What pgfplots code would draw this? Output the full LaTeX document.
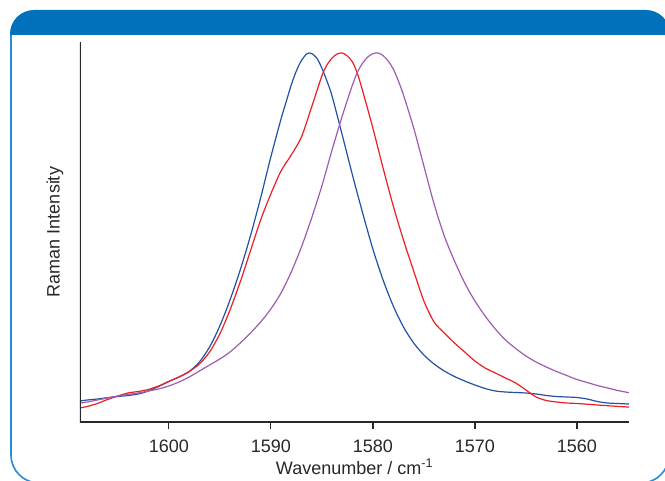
\documentclass[border=0pt]{standalone}
\usepackage{pgfplots}
\pgfplotsset{compat=1.18}
\usepackage{fontspec}
\setmainfont{Liberation Sans}
\definecolor{hdr}{RGB}{0,113,186}
\definecolor{frm}{RGB}{40,140,215}
\definecolor{cblue}{RGB}{35,82,165}
\definecolor{cred}{RGB}{237,30,36}
\definecolor{cpurp}{RGB}{158,92,178}
\definecolor{axc}{RGB}{40,40,40}
\begin{document}
\begin{tikzpicture}[x=1pt,y=1pt]
\clip (0,0) rectangle (665,480);
\fill[white] (0,0) rectangle (665,480);
\draw[frm, line width=1.6pt] (11,446) -- (11,25) arc[start angle=180,end angle=270,radius=28] -- (641,-3) arc[start angle=270,end angle=360,radius=28] -- (669,446);
\fill[hdr] (10,445) -- (10,446) arc[start angle=180,end angle=90,radius=24] -- (646,470) arc[start angle=90,end angle=0,radius=24] -- (670,445) -- cycle;
\begin{axis}[at={(80pt,58pt)}, anchor=south west, scale only axis,
  width=549pt, height=380pt, x dir=reverse,
  xmin=1554.9, xmax=1608.7, ymin=0, ymax=380,
  axis line style={draw=none}, ytick=\empty,
  xtick={1560,1570,1580,1590,1600}, xtick pos=bottom,
  tick align=outside, major tick length=7pt,
  tick style={axc, line width=1.3pt},
  ticklabel style={font=\fontsize{18}{22}\selectfont, text=axc},
  xticklabel style={yshift=-7pt},
  /pgf/number format/assume math mode=true,
  /pgf/number format/1000 sep={},
  xlabel={Wavenumber / cm\textsuperscript{-1}},
  ylabel={Raman Intensity},
  label style={font=\fontsize{18}{22}\selectfont, text=axc},
  xlabel style={at={(axis description cs:0.5,-0.118)}, anchor=center},
  ylabel style={at={(axis description cs:-0.0455,0.5)}, anchor=center},
  every axis plot/.append style={line width=1.2pt, smooth, no markers},
  clip=true]
\addplot[cblue] coordinates {
(1608.7,21) (1608,22) (1607,23) (1606,24.3) (1605,25.5) (1604,26.5) (1603,28)
(1602,31) (1601,35.5) (1600,40.5) (1599,45) (1598,50.5) (1597,60) (1596,75)
(1595,96) (1594,122) (1593,152) (1592,186) (1591,224) (1590,265) (1589,303)
(1588.5,320) (1588,337) (1587.5,351) (1587,361.5) (1586.5,368) (1586.25,369)
(1586,368.5) (1585.5,364) (1585,354) (1584.5,341) (1584,326) (1583,287)
(1582,247) (1581,209) (1580,173) (1579,142) (1578,116) (1577,95) (1576,79)
(1575,67) (1574,58) (1573,51) (1572,45.5) (1571,41) (1570,37) (1569,33.5)
(1568,31) (1567,30) (1566,29.5) (1565,29) (1564,28) (1563,26.5) (1562,25.5)
(1561,25) (1560,24.5) (1559,23) (1558,20.5) (1557,19) (1556,18.5) (1555,18)
(1554.9,18)};
\addplot[cred] coordinates {
(1608.7,14) (1608,15.5) (1607,18.5) (1606,22.5) (1605,26) (1604,29) (1603,30.5)
(1602,32.5) (1601,36) (1600,40.5) (1599,45) (1598,50.5) (1597,58) (1596,70)
(1595,88) (1594,112) (1593,140) (1592,171) (1591,202) (1590,228) (1589,251)
(1588,267) (1587,285) (1586,315) (1585,346) (1584.5,357) (1584,364)
(1583.5,368) (1583,369) (1582.5,366) (1582,360) (1581.5,348) (1581,331)
(1580,294) (1579,254) (1578,216) (1577,182) (1576,151) (1575,121)
(1574,100) (1573,89) (1572,79) (1571,70) (1570,61) (1569,54) (1568,49)
(1567,44) (1566,39) (1565,32) (1564,25) (1563,21.5) (1562,20) (1561,19)
(1560,18.5) (1559,17.8) (1558,17) (1557,16.3) (1556,15.6) (1555,15) (1554.9,15)};
\addplot[cpurp] coordinates {
(1608.7,19) (1608,20) (1607,22) (1606,24) (1605,26) (1604,27.5) (1603,29)
(1602,31) (1601,33) (1600,36) (1599,40) (1598,45) (1597,51) (1596,57)
(1595,63) (1594,70) (1593,79) (1592,89) (1591,100) (1590,113) (1589,129)
(1588,150) (1587,175) (1586,204) (1585,236) (1584,272) (1583,306) (1582,337)
(1581.5,350) (1581,359) (1580.5,365) (1580,368.3) (1579.5,369) (1579,366.5)
(1578.5,361) (1578,353) (1577.5,341) (1577,327) (1576,294) (1575,256)
(1574,218) (1573,186) (1572,161) (1571,139) (1570,121) (1569,106) (1568,93)
(1567,82) (1566,73.5) (1565,66) (1564,60) (1563,55) (1562,50.5) (1561,46.5)
(1560,42.5) (1559,39.5) (1558,36.5) (1557,34) (1556,31.5) (1555,29.5) (1554.9,29.3)};
\draw[axc, line width=1.5pt] (axis description cs:0,1) -- (axis description cs:0,0) -- (axis description cs:1,0);
\end{axis}
\end{tikzpicture}
\end{document}
